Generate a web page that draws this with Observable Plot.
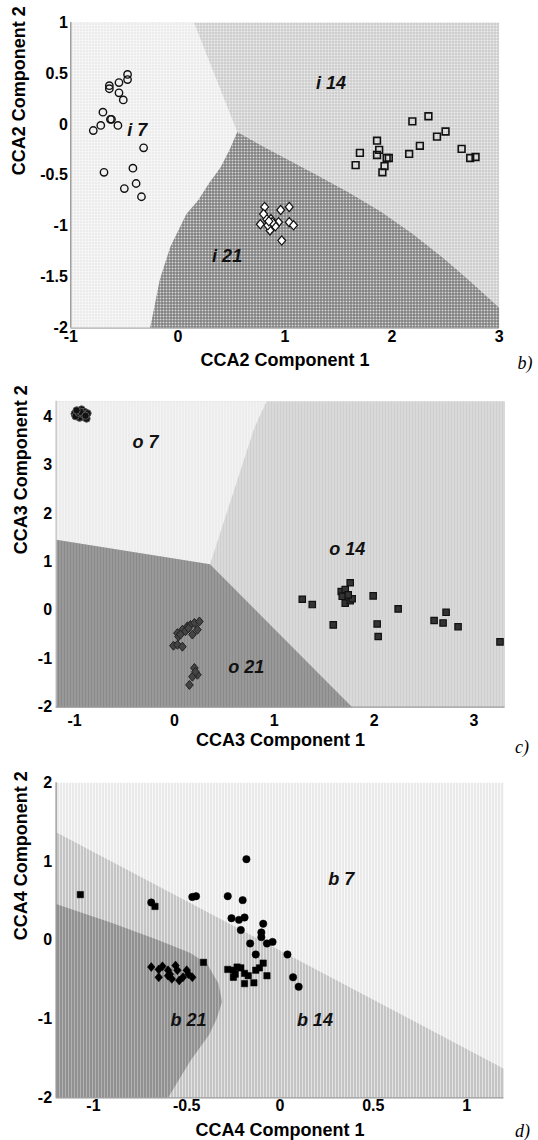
<!DOCTYPE html>
<html><head><meta charset="utf-8">
<script src="https://cdn.jsdelivr.net/npm/d3@7"></script>
<script src="https://cdn.jsdelivr.net/npm/@observablehq/plot@0.6"></script>
<style>
html,body{margin:0;padding:0;background:#fff;}
#wrap{position:relative;width:538px;height:1140px;overflow:hidden;background:#fff;}
.panel{position:absolute;left:0;}
</style></head><body><div id="wrap"></div>
<script>
// ---------- Panel b) CCA2 ----------
const xTicksB = [-1, 0, 1, 2, 3];
const yTicksB = [-2, -1.5, -1, -0.5, 0, 0.5, 1];
const xDomB = [-1, 3];
const yDomB = [-2, 1];
const circlesBx = [-0.47,-0.47,-0.64,-0.64,-0.55,-0.55,-0.51,-0.70,-0.63,-0.62,-0.72,-0.79,-0.56,-0.32,-0.69,-0.42,-0.50,-0.39,-0.34];
const circlesBy = [0.49,0.44,0.38,0.35,0.41,0.31,0.24,0.12,0.05,0.05,-0.01,-0.06,-0.01,-0.23,-0.47,-0.43,-0.63,-0.58,-0.71];
const squaresBx = [1.66,1.70,1.86,1.88,1.86,1.95,1.97,1.93,1.91,2.16,2.26,2.19,2.34,2.42,2.50,2.65,2.73,2.78];
const squaresBy = [-0.40,-0.28,-0.16,-0.25,-0.30,-0.33,-0.33,-0.41,-0.47,-0.29,-0.21,0.03,0.08,-0.12,-0.07,-0.24,-0.33,-0.32];
const diamondsBx = [0.81,0.96,1.04,0.77,1.04,1.08,0.86,0.97,0.94,0.83,0.90,0.80,0.87,0.84,0.91,0.88,0.85];
const diamondsBy = [-0.81,-0.84,-0.81,-0.98,-0.96,-0.99,-1.04,-1.14,-0.96,-0.93,-0.98,-0.88,-0.93,-0.99,-1.0,-0.96,-0.95];
// region boundaries (x, y pairs)
const bndB_7_14x = [0.15, 0.555];
const bndB_7_14y = [1, -0.075];
const bndB_21Lx = [0.555,0.48,0.40,0.29,0.19,0.08,-0.07,-0.17,-0.23,-0.26];
const bndB_21Ly = [-0.075,-0.255,-0.42,-0.58,-0.745,-0.88,-1.2,-1.53,-1.85,-2];
const bndB_21Rx = [0.555,0.8,1.05,1.3,1.6,1.9,2.2,2.5,2.75,3.0];
const bndB_21Ry = [-0.075,-0.22,-0.36,-0.5,-0.67,-0.86,-1.08,-1.33,-1.56,-1.8];
const labelsB = ["i 7", "i 14", "i 21"];
const labelsBx = [-0.38, 1.43, 0.46];
const labelsBy = [-0.06, 0.40, -1.29];

// ---------- Panel c) CCA3 ----------
const xTicksC = [-1, 0, 1, 2, 3];
const yTicksC = [-2, -1, 0, 1, 2, 3, 4];
const xDomC = [-1.185, 3.31];
const yDomC = [-2, 4.32];
const circlesCx = [-1.0,-0.97,-0.93,-0.90,-0.87,-0.92,-0.95,-0.88,-0.99,-0.96,-0.91,-0.94,-0.89,-0.98];
const circlesCy = [4.06,4.12,4.15,4.10,4.07,4.00,3.98,3.96,4.01,4.08,4.04,4.10,4.02,4.13];
const squaresCx = [1.28,1.38,1.59,1.67,1.71,1.76,1.68,1.71,1.76,1.78,1.99,2.03,2.04,2.24,2.60,2.69,2.72,2.84,3.26,1.74];
const squaresCy = [0.23,0.12,-0.30,0.39,0.43,0.57,0.29,0.15,0.20,0.24,0.30,-0.28,-0.54,0.03,-0.21,-0.26,-0.04,-0.34,-0.65,0.32];
const diamondsCx = [-0.01,0.03,0.08,0.03,0.08,0.13,0.16,0.20,0.25,0.23,0.18,0.11,0.04,0.20,0.23,0.18,0.15,0.21,0.06,0.14];
const diamondsCy = [-0.73,-0.71,-0.75,-0.47,-0.40,-0.33,-0.30,-0.26,-0.23,-0.40,-0.50,-0.43,-0.54,-1.19,-1.33,-1.37,-1.54,-1.27,-0.50,-0.37];
const regC7x = [-1.185, 0.923, 0.80, 0.356, -1.185];
const regC7y = [4.32, 4.32, 3.77, 0.95, 1.46];
const regC21x = [-1.185, 0.356, 1.78, -1.185];
const regC21y = [1.46, 0.95, -2, -2];
const labelsC = ["o 7", "o 14", "o 21"];
const labelsCx = [-0.29, 1.73, 0.72];
const labelsCy = [3.48, 1.26, -1.18];

// ---------- Panel d) CCA4 ----------
const xTicksD = [-1, -0.5, 0, 0.5, 1];
const yTicksD = [-2, -1, 0, 1, 2];
const xDomD = [-1.2, 1.2];
const yDomD = [-2, 2];
const circlesDx = [-0.69,-0.47,-0.45,-0.28,-0.20,-0.18,-0.26,-0.22,-0.19,-0.21,-0.09,-0.10,-0.10,-0.07,-0.04,-0.16,-0.13,0.04,0.07,0.10];
const circlesDy = [0.48,0.55,0.56,0.56,0.51,1.03,0.28,0.26,0.29,0.13,0.21,0.10,0.04,-0.04,-0.02,-0.04,-0.18,-0.18,-0.47,-0.59];
const squaresDx = [-1.07,-0.67,-0.41,-0.28,-0.25,-0.23,-0.21,-0.24,-0.19,-0.17,-0.13,-0.11,-0.09,-0.07,-0.19,-0.14,-0.25];
const squaresDy = [0.58,0.43,-0.28,-0.37,-0.38,-0.34,-0.35,-0.43,-0.42,-0.45,-0.38,-0.35,-0.29,-0.45,-0.55,-0.54,-0.47];
const diamondsDx = [-0.69,-0.65,-0.63,-0.60,-0.59,-0.56,-0.55,-0.58,-0.52,-0.50,-0.49,-0.47,-0.65,-0.60,-0.54];
const diamondsDy = [-0.34,-0.37,-0.33,-0.38,-0.43,-0.32,-0.38,-0.49,-0.47,-0.38,-0.43,-0.47,-0.47,-0.45,-0.51];
const regD14x = [-1.2, 1.2, 1.2, -1.2];
const regD14y = [1.373, -1.63, -2, -2];
const regD21x = [-1.2,-0.9,-0.65,-0.48,-0.39,-0.33,-0.31,-0.34,-0.38,-0.48,-0.6,-1.2];
const regD21y = [0.46,0.22,0.0,-0.16,-0.3,-0.55,-0.78,-1.0,-1.2,-1.53,-2,-2];
const labelsD = ["b 7", "b 21", "b 14"];
const labelsDx = [0.328, -0.49, 0.187];
const labelsDy = [0.78, -1.02, -1.02];

// ---------- helpers ----------
const zip = (xs, ys) => xs.map((x, i) => ({x, y: ys[i]}));
const zipT = (ts, xs, ys) => ts.map((t, i) => ({t, x: xs[i], y: ys[i]}));
const fmt = d => String(d);
const SANS = "Liberation Sans, Arial, Helvetica, sans-serif";
const SERIF = "Liberation Serif, Times New Roman, serif";
const diamondSym = {
  draw(ctx, size) {
    const b = Math.sqrt(size / (2 * 0.85)), a = 0.85 * b;
    ctx.moveTo(0, -b); ctx.lineTo(a, 0); ctx.lineTo(0, b); ctx.lineTo(-a, 0); ctx.closePath();
  }
};
function gridPat(id, bg, line) {
  return `<pattern id="${id}" patternUnits="userSpaceOnUse" width="3" height="3">
    <rect width="3" height="3" fill="${bg}"/><rect x="2" width="1" height="3" fill="${line}"/><rect y="2" width="3" height="1" fill="${line}"/></pattern>`;
}
function stripePat(id, a, b) {
  return `<pattern id="${id}" patternUnits="userSpaceOnUse" width="3" height="3">
    <rect width="3" height="3" fill="${a}"/><rect x="2" width="1" height="3" fill="${b}"/></pattern>`;
}
function dotPat(id, bg, d1, d2) {
  return `<pattern id="${id}" patternUnits="userSpaceOnUse" width="3" height="2">
    <rect width="3" height="2" fill="${bg}"/><rect x="0" y="0" width="1" height="1" fill="${d1}"/><rect x="0" y="1" width="1" height="1" fill="${d2}"/></pattern>`;
}

function panel(cfg) {
  const svg = Plot.plot({
    width: 538,
    height: cfg.height,
    marginTop: cfg.m[0], marginRight: cfg.m[1], marginBottom: cfg.m[2], marginLeft: cfg.m[3],
    style: {fontFamily: SANS, fontSize: "16px", fontWeight: "bold", background: "transparent", color: "black"},
    x: {domain: cfg.xDom, ticks: cfg.xTicks, tickFormat: fmt, tickSize: 0, tickPadding: cfg.xPad, label: null},
    y: {domain: cfg.yDom, ticks: cfg.yTicks, tickFormat: fmt, tickSize: 0, tickPadding: cfg.yPad, label: null},
    marks: [
      Plot.frame({fill: `url(#${cfg.bg})`, stroke: "none"}),
      ...cfg.polys.map(p => Plot.line(p.pts, {x: "x", y: "y", fill: `url(#${p.pat})`, stroke: "none"})),
      Plot.ruleX([cfg.xDom[0]], {stroke: cfg.axis, strokeWidth: 1.2}),
      Plot.ruleY([cfg.yDom[0]], {stroke: cfg.axisB, strokeWidth: 1.2}),
      ...cfg.dots,
      Plot.text(cfg.labels, {x: "x", y: "y", text: "t", fontSize: 18, fontWeight: "bold", fontStyle: "italic", fontFamily: SANS, fill: "#111"}),
      Plot.text([cfg.xTitle], {frameAnchor: "bottom", dy: cfg.xTitleDy, lineAnchor: "middle", fontSize: 18, fontWeight: "bold", fontFamily: SANS}),
      Plot.text([cfg.yTitle], {frameAnchor: "left", dx: cfg.yTitleDx, rotate: -90, lineAnchor: "middle", fontSize: 18, fontWeight: "bold", fontFamily: SANS}),
      Plot.text([cfg.tag], {frameAnchor: "bottom-right", dx: cfg.tagDx, dy: cfg.tagDy, lineAnchor: "middle", textAnchor: "middle", fontSize: 18, fontWeight: "normal", fontStyle: "italic", fontFamily: SERIF})
    ]
  });
  const defs = document.createElementNS("http://www.w3.org/2000/svg", "defs");
  defs.innerHTML = cfg.patterns;
  svg.insertBefore(defs, svg.firstChild);
  const div = document.createElement("div");
  div.className = "panel";
  div.style.top = cfg.top + "px";
  div.appendChild(svg);
  document.getElementById("wrap").appendChild(div);
}

// Panel b
const polyB7 = [{x: xDomB[0], y: yDomB[1]}, ...zip(bndB_7_14x, bndB_7_14y), ...zip(bndB_21Lx, bndB_21Ly).slice(1), {x: xDomB[0], y: yDomB[0]}];
const polyB21 = [...zip(bndB_21Rx, bndB_21Ry), {x: xDomB[1], y: yDomB[0]}, ...zip(bndB_21Lx, bndB_21Ly).reverse()];
panel({
  top: 0, height: 375, m: [22, 39.4, 47.3, 70.3],
  xDom: xDomB, yDom: yDomB, xTicks: xTicksB, yTicks: yTicksB, xPad: 2.5, yPad: 3,
  patterns: gridPat("pB14", "#efefef", "#c4c4c4") + gridPat("pB7", "#fbfbfb", "#e8e8e8") + gridPat("pB21", "#d8d8d8", "#6a6a6a"),
  bg: "pB14",
  polys: [{pts: polyB7, pat: "pB7"}, {pts: polyB21, pat: "pB21"}],
  axis: "#8a8a8a", axisB: "#b0b0b0",
  dots: [
    Plot.dot(zip(circlesBx, circlesBy), {x: "x", y: "y", r: 3.7, stroke: "#111", strokeWidth: 1.4, fill: "none"}),
    Plot.dot(zip(squaresBx, squaresBy), {x: "x", y: "y", symbol: "square", r: 3.8, stroke: "#111", strokeWidth: 1.6, fill: "none"}),
    Plot.dot(zip(diamondsBx, diamondsBy), {x: "x", y: "y", symbol: diamondSym, r: 3.4, stroke: "#111", strokeWidth: 1.2, fill: "white"})
  ],
  labels: zipT(labelsB, labelsBx, labelsBy),
  xTitle: "CCA2 Component 1", xTitleDy: 32, yTitle: "CCA2 Component 2", yTitleDx: -52,
  tag: "b)", tagDx: 26, tagDy: 35
});

// Panel c
panel({
  top: 375, height: 390, m: [25.7, 33.5, 58.3, 55.6],
  xDom: xDomC, yDom: yDomC, xTicks: xTicksC, yTicks: yTicksC, xPad: 7.5, yPad: 4,
  patterns: stripePat("pC14", "#cfcfcf", "#e2e2e2") + stripePat("pC7", "#f3f3f3", "#e6e6e6") + stripePat("pC21", "#8a8a8a", "#a8a8a8"),
  bg: "pC14",
  polys: [{pts: zip(regC7x, regC7y), pat: "pC7"}, {pts: zip(regC21x, regC21y), pat: "pC21"}],
  axis: "#bdbdbd", axisB: "#9a9a9a",
  dots: [
    Plot.dot(zip(circlesCx, circlesCy), {x: "x", y: "y", r: 3.6, fill: "#111", stroke: "#555", strokeWidth: 1}),
    Plot.dot(zip(squaresCx, squaresCy), {x: "x", y: "y", symbol: "square", r: 3.6, fill: "#333", stroke: "#111", strokeWidth: 1.2}),
    Plot.dot(zip(diamondsCx, diamondsCy), {x: "x", y: "y", symbol: diamondSym, r: 3.3, fill: "#444", stroke: "#222", strokeWidth: 1})
  ],
  labels: zipT(labelsC, labelsCx, labelsCy),
  xTitle: "CCA3 Component 1", xTitleDy: 33, yTitle: "CCA3 Component 2", yTitleDx: -35,
  tag: "c)", tagDx: 17, tagDy: 40
});

// Panel d
panel({
  top: 765, height: 375, m: [17.3, 34.6, 42.7, 55.6],
  xDom: xDomD, yDom: yDomD, xTicks: xTicksD, yTicks: yTicksD, xPad: 2, yPad: 4,
  patterns: dotPat("pD7", "#f8f8f8", "#d0d0d0", "#e8e8e8") + dotPat("pD14", "#e4e4e4", "#8a8a8a", "#bdbdbd") + dotPat("pD21", "#b2b2b2", "#585858", "#888888"),
  bg: "pD7",
  polys: [{pts: zip(regD14x, regD14y), pat: "pD14"}, {pts: zip(regD21x, regD21y), pat: "pD21"}],
  axis: "#8a8a8a", axisB: "#9a9a9a",
  dots: [
    Plot.dot(zip(circlesDx, circlesDy), {x: "x", y: "y", r: 3.7, fill: "#000", stroke: "#000", strokeWidth: 0.5}),
    Plot.dot(zip(squaresDx, squaresDy), {x: "x", y: "y", symbol: "square", r: 3.6, fill: "#000", stroke: "#000", strokeWidth: 0.5}),
    Plot.dot(zip(diamondsDx, diamondsDy), {x: "x", y: "y", symbol: diamondSym, r: 3.3, fill: "#000", stroke: "#000", strokeWidth: 0.5})
  ],
  labels: zipT(labelsD, labelsDx, labelsDy),
  xTitle: "CCA4 Component 1", xTitleDy: 32, yTitle: "CCA4 Component 2", yTitleDx: -35,
  tag: "d)", tagDx: 18.5, tagDy: 33
});
</script></body></html>
